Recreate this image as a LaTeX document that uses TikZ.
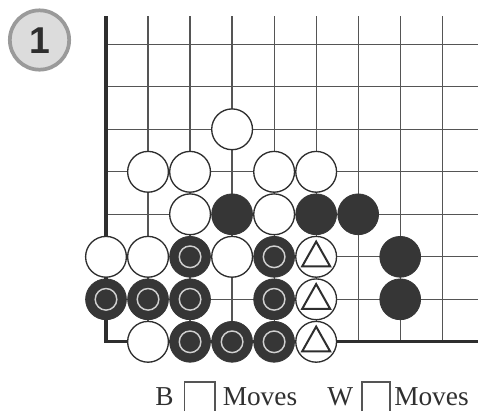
\documentclass[tikz,border=0pt]{standalone}
\usepackage{fontspec}
\setmainfont{Liberation Serif}
\newfontfamily\badgefont{Liberation Sans}
\usetikzlibrary{shapes.geometric,calc}
\definecolor{gridc}{HTML}{555555}
\definecolor{edgec}{HTML}{2E2E2E}
\definecolor{stoneb}{HTML}{363636}
\definecolor{stonew}{HTML}{FFFFFF}
\definecolor{ringc}{HTML}{D0D0D0}
\definecolor{badgefill}{HTML}{DCDCDC}
\definecolor{badgering}{HTML}{9A9A9A}
\definecolor{txtc}{HTML}{303030}
\tikzset{
  gridline/.style={draw=gridc, line width=0.9pt},
  edgeline/.style={draw=edgec, line width=2.3pt},
  wst/.style={circle, draw=edgec, fill=stonew, line width=1pt, minimum size=30.6pt, inner sep=0pt},
  bst/.style={circle, draw=stoneb, fill=stoneb, line width=0.6pt, minimum size=30.6pt, inner sep=0pt},
  ringmark/.style={circle, draw=ringc, line width=1.1pt, minimum size=16.2pt, inner sep=0pt},
  trimark/.style={draw=edgec, line width=1.5pt, line join=miter},
  boxline/.style={draw=gridc, line width=1.1pt},
  caption/.style={font=\fontsize{20.5pt}{22pt}\selectfont, text=txtc, inner sep=0pt, anchor=base west},
}
\begin{document}
\begin{tikzpicture}[x=0.75pt, y=-0.75pt]
\useasboundingbox (0,0) rectangle (478,411);
% badge
\node[circle, draw=badgering, fill=badgefill, line width=2.8pt, minimum size=44.5pt, inner sep=0pt] (badge) at (39.5,40) {};
\node[font=\badgefont\bfseries\fontsize{28pt}{30pt}\selectfont, text=edgec, inner sep=0pt] (badgenum) at (39.5,41) {1};
% grid
\foreach \c in {1,...,8} {
  \draw[gridline] ({106+42.03*\c},16) -- ({106+42.03*\c},341.7);
}
\foreach \r in {0,...,6} {
  \draw[gridline] (106,{44.3+42.5*\r}) -- (478,{44.3+42.5*\r});
}
\draw[edgeline, line join=miter] (106,16) -- (106,341.7) -- (478,341.7);
% stones: column c, row r
\foreach \c/\r [count=\i] in {3/2, 1/3, 2/3, 4/3, 5/3, 2/4, 4/4, 0/5, 1/5, 3/5, 1/7} {
  \node[wst] (w\i) at ({106+42.03*\c},{44.3+42.5*\r}) {};
}
\foreach \c/\r [count=\i] in {3/4, 5/4, 6/4, 7/5, 7/6} {
  \node[bst] (b\i) at ({106+42.03*\c},{44.3+42.5*\r}) {};
}
\foreach \c/\r [count=\i] in {2/5, 4/5, 0/6, 1/6, 2/6, 4/6, 2/7, 3/7, 4/7} {
  \node[bst] (rb\i) at ({106+42.03*\c},{44.3+42.5*\r}) {};
  \node[ringmark] (rm\i) at (rb\i) {};
}
\foreach \r [count=\i] in {5,6,7} {
  \node[wst] (t\i) at ({106+42.03*5},{44.3+42.5*\r}) {};
  \draw[trimark] ($(t\i)+(0,-15.2)$) -- ($(t\i)+(14,9.6)$) -- ($(t\i)+(-14,9.6)$) -- cycle;
}
% caption
\node[caption] (bl) at (155,405) {B};
\draw[boxline] (184.5,411) -- (184.5,382) -- (215,382) -- (215,411);
\node[caption] (m1) at (222.5,405) {Moves};
\node[caption] (wl) at (327,405) {W};
\draw[boxline] (362,411) -- (362,382) -- (390,382) -- (390,411);
\node[caption] (m2) at (394,405) {Moves};
\end{tikzpicture}
\end{document}
